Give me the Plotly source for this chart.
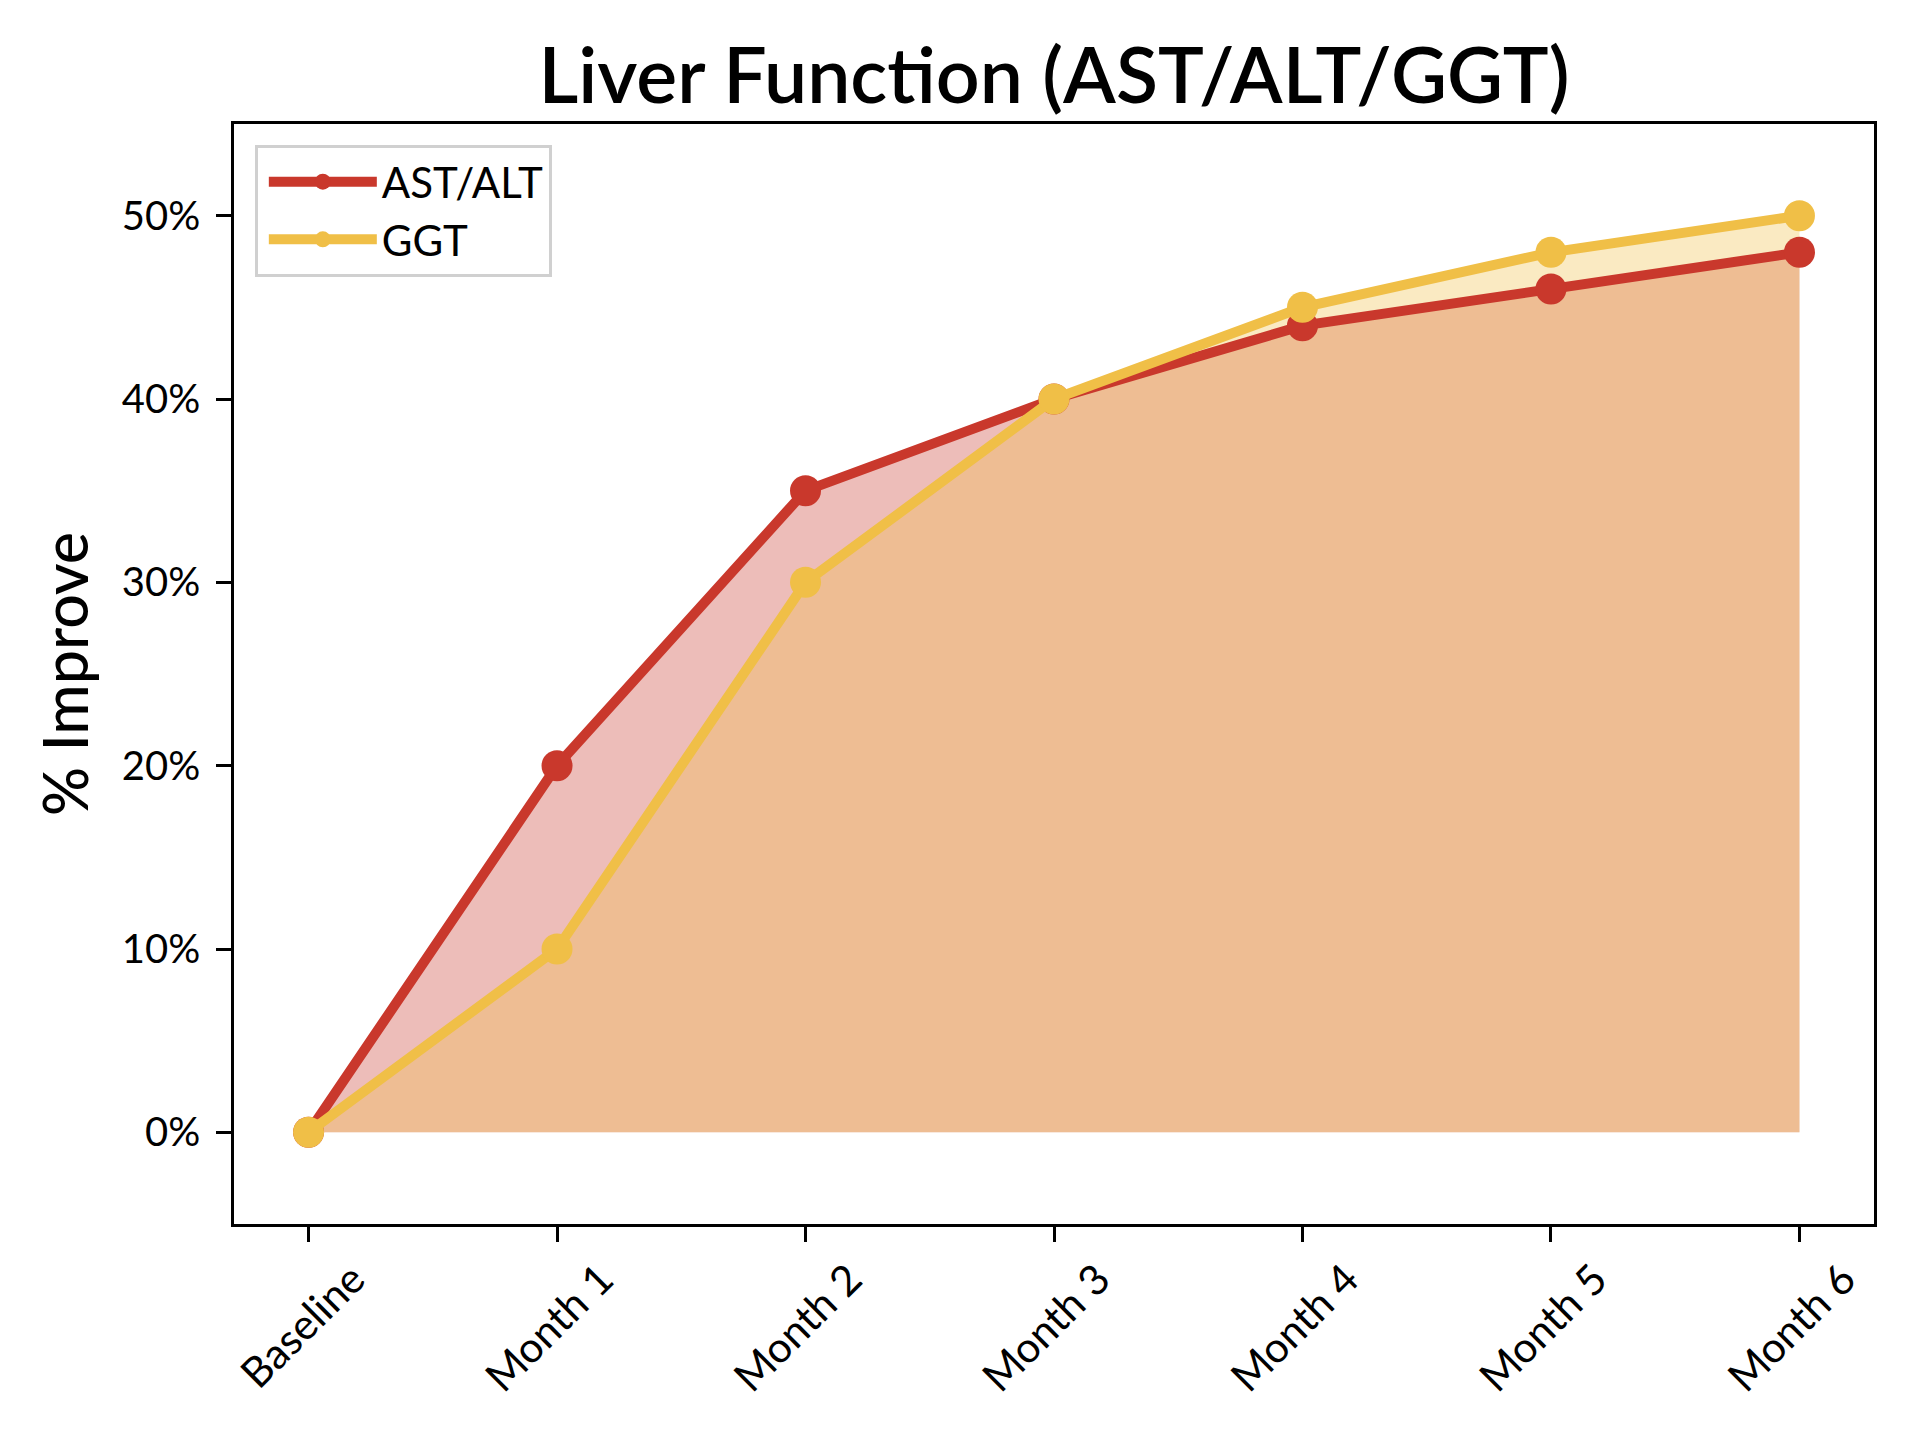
import plotly.graph_objects as go

# Данные графика
visits = ['Baseline', 'Month 1', 'Month 2', 'Month 3', 'Month 4', 'Month 5', 'Month 6']
ast_alt = [0, 20, 35, 40, 44, 46, 48]
ggt = [0, 10, 30, 40, 45, 48, 50]
y_ticks = [0, 10, 20, 30, 40, 50]
y_tick_labels = ['0%', '10%', '20%', '30%', '40%', '50%']

RED = '#C9382C'
YELLOW = '#F0BF47'
FONT = 'Lato'

fig = go.Figure()

# Заливки под линиями (отдельно, чтобы не перекрывать линии)
fig.add_trace(go.Scatter(x=visits, y=ast_alt, mode='none', fill='tozeroy',
                         fillcolor='rgba(201,56,44,0.33)', showlegend=False, hoverinfo='skip'))
fig.add_trace(go.Scatter(x=visits, y=ggt, mode='none', fill='tozeroy',
                         fillcolor='rgba(240,191,71,0.33)', showlegend=False, hoverinfo='skip'))

# Линии с маркерами
fig.add_trace(go.Scatter(x=visits, y=ast_alt, mode='lines+markers', name='AST/ALT',
                         line=dict(color=RED, width=10), marker=dict(color=RED, size=31)))
fig.add_trace(go.Scatter(x=visits, y=ggt, mode='lines+markers', name='GGT',
                         line=dict(color=YELLOW, width=10), marker=dict(color=YELLOW, size=31)))

fig.update_layout(
    width=1920, height=1440,
    paper_bgcolor='white', plot_bgcolor='white',
    margin=dict(l=226, r=54, t=116, b=224),
    font=dict(family=FONT, color='black', size=40),
    title=dict(text='Liver Function (AST/ALT/GGT)', x=0.5, xref='paper', xanchor='center',
               y=0.953, yanchor='middle', font=dict(size=77, family=FONT, weight=600)),
    legend=dict(x=0.0127, y=0.981, xanchor='left', yanchor='top',
                bordercolor='#D0D0D0', borderwidth=3, bgcolor='rgba(255,255,255,0.9)',
                font=dict(size=42), itemwidth=108, tracegroupgap=4,
                indentation=6),
    showlegend=True,
)

fig.update_xaxes(
    type='category', range=[-0.3, 6.3], tickangle=-45,
    showline=True, linecolor='black', linewidth=2.5, mirror=True,
    ticks='outside', ticklen=15, tickwidth=2.5, tickcolor='black',
    showgrid=False, zeroline=False, tickfont=dict(size=42),
    ticklabelshift=44, ticklabelstandoff=-4,
)
fig.update_yaxes(
    range=[-5, 55], tickvals=y_ticks, ticktext=y_tick_labels,
    showline=True, linecolor='black', linewidth=2.5, mirror=True,
    ticks='outside', ticklen=15, tickwidth=2.5, tickcolor='black',
    showgrid=False, zeroline=False, tickfont=dict(size=40), ticklabelstandoff=8,
    title=dict(text='% Improve', font=dict(size=61, weight=500), standoff=14),
)

fig.write_html('out.html')
